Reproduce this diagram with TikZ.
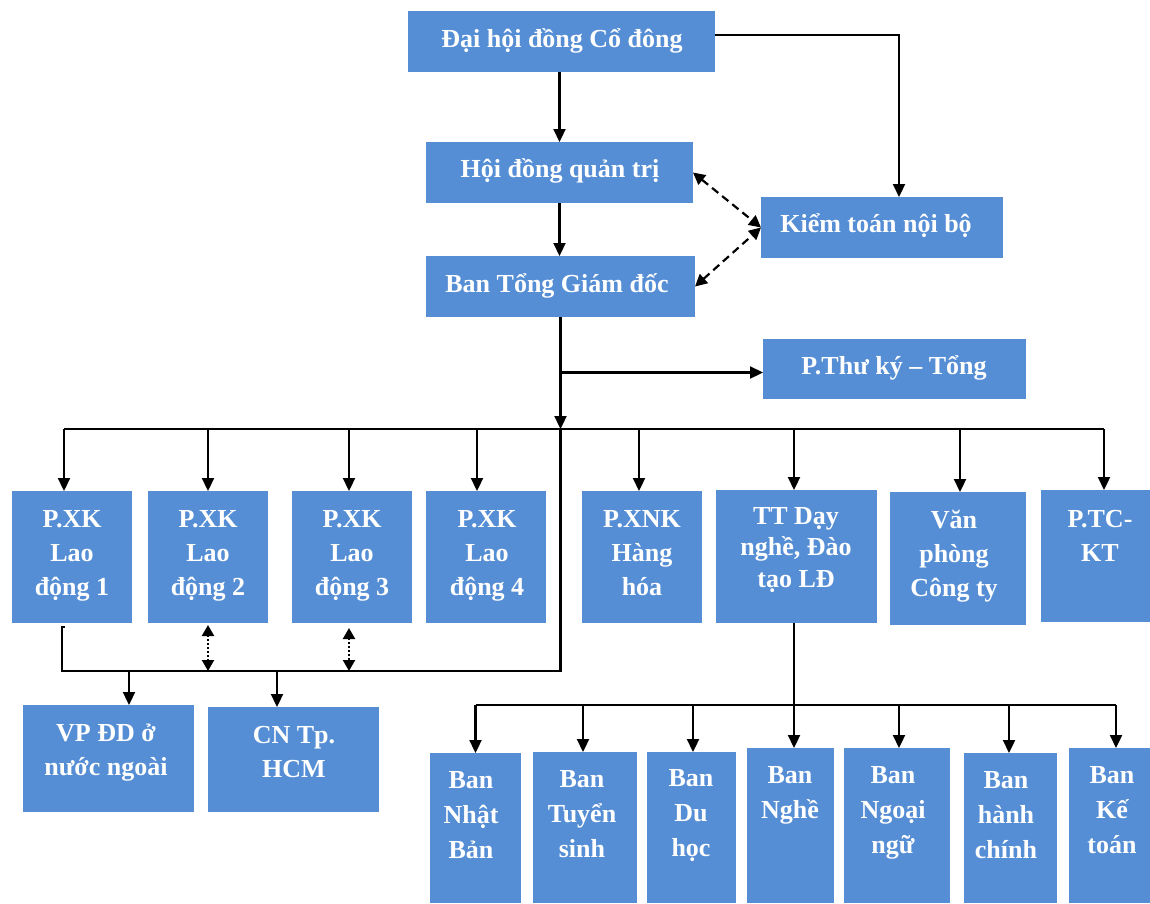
\documentclass[tikz,border=0pt]{standalone}
\usepackage{fontspec}
\setmainfont{Liberation Serif}
\usetikzlibrary{arrows.meta}
\definecolor{boxblue}{RGB}{85,142,213}
\newcommand\orgbox[5]{\node[bx, minimum width={#4pt-#2pt}, minimum height={#5pt-#3pt}, anchor=north west] (#1) at (#2,#3) {};}
\begin{document}
\begin{tikzpicture}[x=1pt,y=-1pt,
  bx/.style={fill=boxblue, draw=none, inner sep=0pt, outer sep=0pt},
  txt/.style={text=white, font=\bfseries\fontsize{26}{34}\selectfont, align=center, inner sep=0pt, anchor=base},
  conn/.style={line width=2.2pt, black},
  arr/.style={conn, -{Triangle[width=12pt,length=13pt]}},
  darr/.style={line width=2.2pt, dash pattern=on 8pt off 5pt, {Triangle[width=12pt,length=12pt]}-{Triangle[width=12pt,length=12pt]}},
  dotarr/.style={line width=2.2pt, dash pattern=on 2pt off 2pt, {Triangle[width=12pt,length=11pt]}-{Triangle[width=12pt,length=11pt]}}
]
\useasboundingbox (0,0) rectangle (1150,903);
% boxes
\orgbox{dh}{408}{11}{715}{72}
\orgbox{hd}{426}{142}{693}{203}
\orgbox{bt}{426}{256}{695}{317}
\orgbox{kt}{761}{197}{1003}{258}
\orgbox{tk}{763}{339}{1026}{399}
\orgbox{xk1}{12}{491}{132}{623}
\orgbox{xk2}{148}{491}{268}{623}
\orgbox{xk3}{292}{491}{412}{623}
\orgbox{xk4}{426}{491}{546}{623}
\orgbox{xnk}{582}{491}{702}{623}
\orgbox{tt}{716}{490}{877}{623}
\orgbox{vp}{890}{492}{1026}{625}
\orgbox{tc}{1041}{490}{1150}{622}
\orgbox{vpdd}{23}{705}{194}{812}
\orgbox{cn}{208}{707}{379}{812}
\orgbox{nb}{430}{753}{521}{903}
\orgbox{ts}{533}{752}{637}{903}
\orgbox{du}{647}{752}{736}{903}
\orgbox{nghe}{747}{748}{834}{903}
\orgbox{ngoai}{844}{748}{950}{903}
\orgbox{hc}{964}{753}{1057}{903}
\orgbox{kto}{1069}{748}{1150}{903}
% texts (anchor = baseline of the last line)
\node[txt] (dh-t) at (562,47) {Đại hội đồng Cổ đông};
\node[txt] (hd-t) at (560,177) {Hội đồng quản trị};
\node[txt] (bt-t) at (557,292) {Ban Tổng Giám đốc};
\node[txt] (kt-t) at (876,232) {Kiểm toán nội bộ};
\node[txt] (tk-t) at (894,374) {P.Thư ký – Tổng};
\node[txt] (xk1-t) at (72,595) {P.XK\\Lao\\động 1};
\node[txt] (xk2-t) at (208,595) {P.XK\\Lao\\động 2};
\node[txt] (xk3-t) at (352,595) {P.XK\\Lao\\động 3};
\node[txt] (xk4-t) at (487,595) {P.XK\\Lao\\động 4};
\node[txt] (xnk-t) at (642,595) {P.XNK\\Hàng\\hóa};
\node[txt, font=\bfseries\fontsize{26}{31.5}\selectfont] (tt-t) at (796,587) {TT Dạy\\nghề, Đào\\tạo LĐ};
\node[txt] (vp-t) at (954,596) {Văn\\phòng\\Công ty};
\node[txt] (tc-t) at (1100,561) {P.TC-\\KT};
\node[txt] (vpdd-t) at (106,775) {VP ĐD ở\\nước ngoài};
\node[txt] (cn-t) at (294,777) {CN Tp.\\HCM};
\node[txt, font=\bfseries\fontsize{26}{35}\selectfont] (nb-t) at (471,858) {Ban\\Nhật\\Bản};
\node[txt, font=\bfseries\fontsize{26}{35}\selectfont] (ts-t) at (582,857) {Ban\\Tuyển\\sinh};
\node[txt, font=\bfseries\fontsize{26}{35}\selectfont] (du-t) at (691,856) {Ban\\Du\\học};
\node[txt, font=\bfseries\fontsize{26}{35}\selectfont] (nghe-t) at (790,818) {Ban\\Nghề};
\node[txt, font=\bfseries\fontsize{26}{35}\selectfont] (ngoai-t) at (893,853) {Ban\\Ngoại\\ngữ};
\node[txt, font=\bfseries\fontsize{26}{35}\selectfont] (hc-t) at (1006,858) {Ban\\hành\\chính};
\node[txt, font=\bfseries\fontsize{26}{35}\selectfont] (kto-t) at (1112,853) {Ban\\Kế\\toán};
% bus coordinates
\coordinate (bus) at (0,429);
\coordinate (low) at (0,671);
\coordinate (sub) at (0,705);
% top connectors
\draw[arr] (dh.south -| hd.north) -- (hd.north);
\draw[arr] (hd.south) -- (hd.south |- bt.north);
\draw[arr] ([yshift=6.5pt]dh.east) -| ([xshift=17pt]kt.north);
\draw[darr] (hd.east) -- (kt.west);
\draw[darr] (bt.east) -- (kt.west);
\draw[arr] (bt.south) -- (bt.south |- bus);
\draw[arr] ([yshift=-3.5pt]bt.south |- tk.west) -- ([yshift=-3.5pt]tk.west);
% main bus
\draw[conn] ([xshift=-8pt]xk1.north |- bus) -- ([xshift=8.5pt]tc.north |- bus);
\draw[arr] ([xshift=-8pt]xk1.north |- bus) -- ([xshift=-8pt]xk1.north);
\draw[arr] (xk2.north |- bus) -- (xk2.north);
\draw[arr] ([xshift=-3pt]xk3.north |- bus) -- ([xshift=-3pt]xk3.north);
\draw[arr] ([xshift=-9pt]xk4.north |- bus) -- ([xshift=-9pt]xk4.north);
\draw[arr] ([xshift=-3pt]xnk.north |- bus) -- ([xshift=-3pt]xnk.north);
\draw[arr] ([xshift=-2.5pt]tt.north |- bus) -- ([xshift=-2.5pt]tt.north);
\draw[arr] ([xshift=2pt]vp.north |- bus) -- ([xshift=2pt]vp.north);
\draw[arr] ([xshift=8.5pt]tc.north |- bus) -- ([xshift=8.5pt]tc.north);
% lower bus
\draw[conn] (bt.south |- bus) -- (bt.south |- low) -- ([xshift=-10pt]xk1.south |- low) -- ([xshift=-10pt,yshift=-4pt]xk1.south) -- ++(3,0);
\draw[arr] ([xshift=20.5pt]vpdd.north |- low) -- ([xshift=20.5pt]vpdd.north);
\draw[arr] ([xshift=-16.5pt]cn.north |- low) -- ([xshift=-16.5pt]cn.north);
\draw[dotarr] ([yshift=-2pt]xk2.south) -- (xk2.south |- low);
\draw[dotarr] ([xshift=-3pt,yshift=-5pt]xk3.south) -- ([xshift=-3pt]xk3.south |- low);
% training centre sub bus
\draw[arr] ([xshift=-2.5pt]tt.south) -- ([xshift=-2.5pt]tt.south |- nghe.north);
\draw[conn] (nb.north |- sub) -- ([xshift=6.5pt]kto.north |- sub);
\draw[arr] (nb.north |- sub) -- (nb.north);
\draw[arr] ([xshift=-2pt]ts.north |- sub) -- ([xshift=-2pt]ts.north);
\draw[arr] ([xshift=1.5pt]du.north |- sub) -- ([xshift=1.5pt]du.north);
\draw[arr] ([xshift=2pt]ngoai.north |- sub) -- ([xshift=2pt]ngoai.north);
\draw[arr] ([xshift=-1.5pt]hc.north |- sub) -- ([xshift=-1.5pt]hc.north);
\draw[arr] ([xshift=6.5pt]kto.north |- sub) -- ([xshift=6.5pt]kto.north);
\end{tikzpicture}
\end{document}
